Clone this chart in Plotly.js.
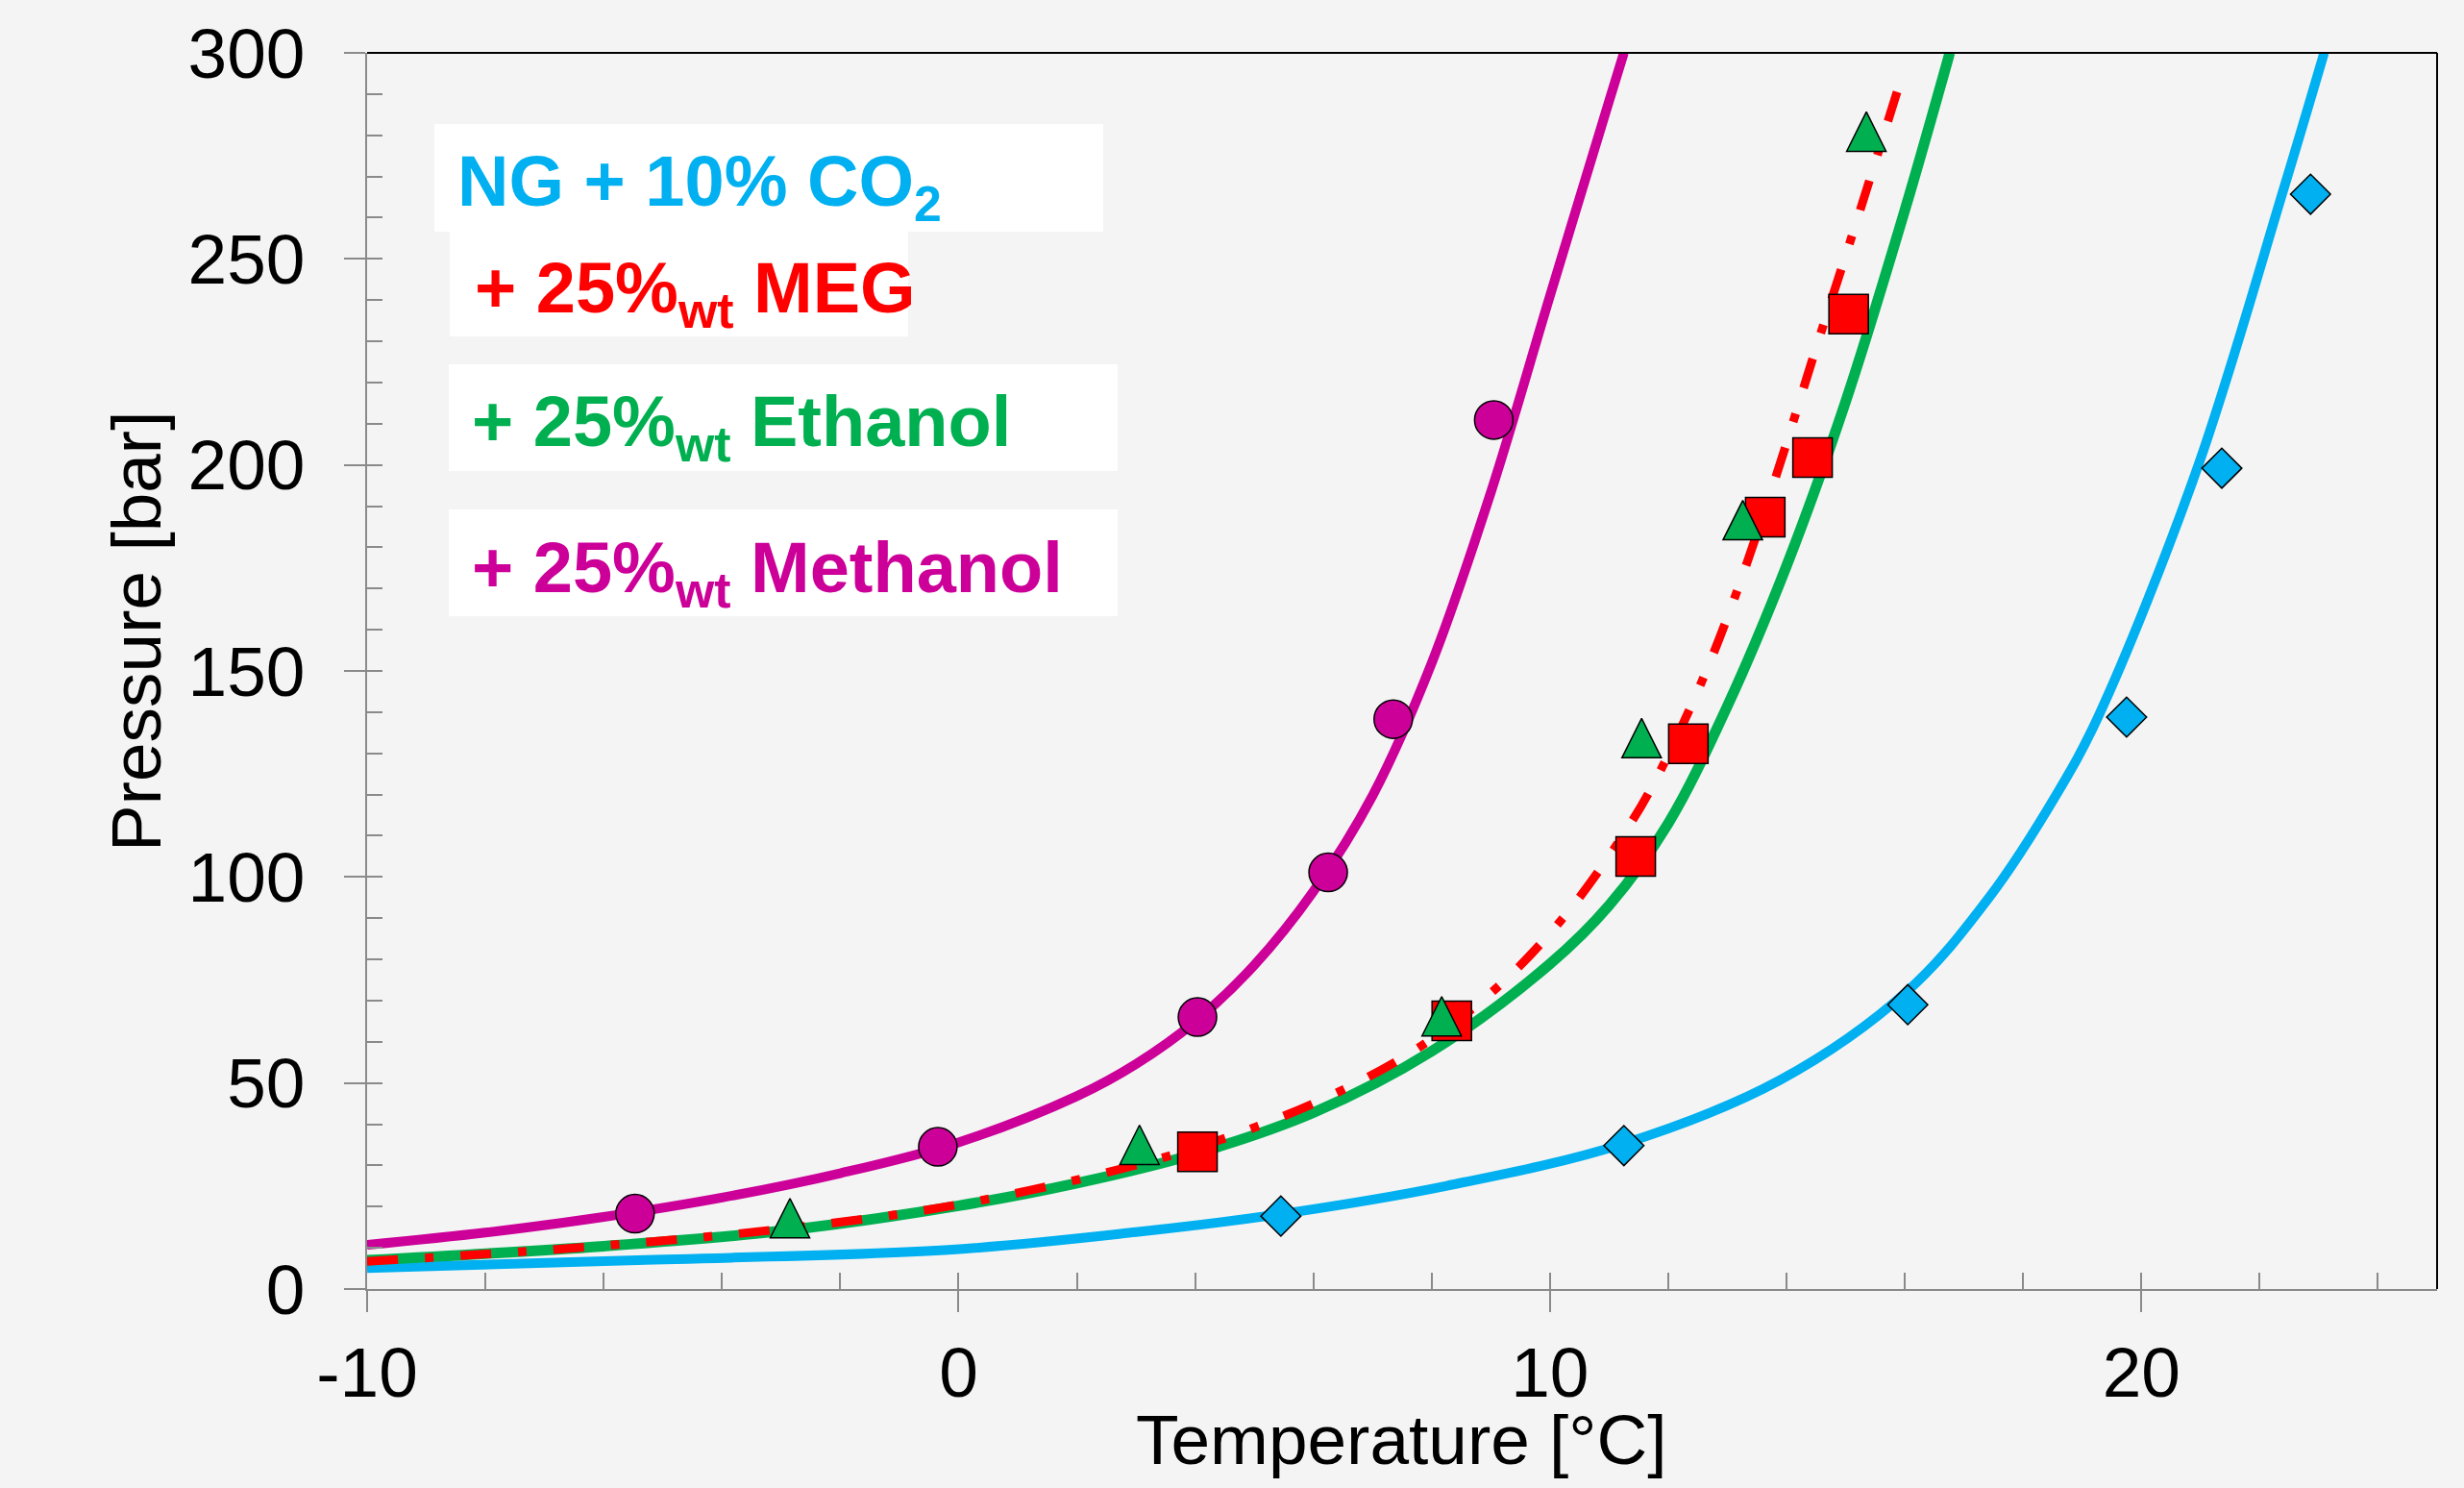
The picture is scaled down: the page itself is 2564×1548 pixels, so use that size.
<!DOCTYPE html>
<html><head><meta charset="utf-8">
<script src="https://cdn.plot.ly/plotly-3.0.1.min.js"></script>
<style>html,body{margin:0;padding:0;background:#f4f4f4;} #chart{width:2564px;height:1548px;}</style>
</head><body><div id="chart"></div>
<script>
// ---------- data ----------
// Experimental points
const methanolT = [-5.47, -0.35, 4.04, 6.25, 7.35, 9.05];
const methanolP = [18.3, 34.5, 66.0, 101.1, 138.3, 210.9];
const ethanolT  = [-2.85, 3.06, 8.17, 11.55, 13.26, 15.35];
const ethanolP  = [17.2, 35.0, 66.2, 133.7, 186.6, 280.9];
const megT      = [4.04, 8.34, 11.45, 12.34, 13.64, 14.44, 15.05];
const megP      = [33.3, 65.1, 105.0, 132.3, 187.3, 201.8, 236.6];
const ngT       = [5.45, 11.25, 16.05, 19.75, 21.36, 22.86];
const ngP       = [17.7, 34.8, 69.0, 138.8, 199.2, 265.7];

// Model curves
const methanolCurveT = [-10, -8, -6, -4, -2, 0, 2, 3, 4, 5, 6, 7, 8, 9, 10, 11, 11.25];
const methanolCurveP = [10.7, 13.7, 17.5, 22.2, 28.1, 35.6, 46.8, 54.6, 64.9, 78.6, 96.5, 119.7, 151.9, 193.3, 241.0, 288.3, 300];
const ethanolCurveT  = [-10, -6, -3, 0, 2, 4, 6, 8, 10, 11, 12, 13, 14, 15, 16, 16.76];
const ethanolCurveP  = [7.0, 10.4, 14.1, 20.2, 25.7, 32.8, 42.8, 57.7, 78.9, 93.1, 113.0, 141.5, 175.5, 215.4, 261.8, 300];
const megCurveT      = [-10, -6.1, -2.85, 0, 3.06, 4.78, 6.55, 7.96, 9.23, 10.36, 11.35, 11.77, 12.48, 13.05, 13.83, 14.46, 15.2, 15.66, 15.97];
const megCurveP      = [6.7, 10.4, 14.8, 20.5, 30.3, 38.0, 48.7, 60.3, 74.8, 92.5, 112.7, 123.1, 144.5, 164.9, 197.6, 226.6, 259.8, 280.9, 295.2];
const ngCurveT       = [-10, -5.43, -0.17, 3.0, 5.45, 8.24, 11.25, 13.89, 16.05, 17.43, 18.56, 19.27, 20.94, 22.4, 23.09];
const ngCurveP       = [5.1, 7.0, 9.5, 13.8, 18.2, 25.0, 35.3, 50.7, 72.4, 95.1, 119.9, 138.9, 199.0, 266.7, 300];

const xTickVals = [-10, 0, 10, 20];
const xTickText = ['-10', '0', '10', '20'];
const yTickVals = [0, 50, 100, 150, 200, 250, 300];
const yTickText = ['0', '50', '100', '150', '200', '250', '300'];

const labelNG  = 'NG + 10% CO<sub>2</sub>';
const labelMEG = '+ 25%<sub>wt</sub> MEG';
const labelEth = '+ 25%<sub>wt</sub> Ethanol';
const labelMet = '+ 25%<sub>wt</sub> Methanol';
const xTitle = 'Temperature [°C]';
const yTitle = 'Pressure [bar]';

// ---------- styling ----------
const cCyan = '#00B0F0', cRed = '#FF0000', cGreen = '#00B050', cMag = '#CC0099';
const axisGray = '#8a8a8a';
const FONT = 'Liberation Sans, Arial, sans-serif';
const W = 2564, H = 1548;
const M = {l: 382, r: 28, t: 55, b: 207};
const plotH = H - M.t - M.b;
const xRange = [-10, 25], yRange = [0, 300];
const TRI_SIZE = 41;
// arrow-up symbol has its apex at the data point; shift the helper axis so the triangle is centred
const triShift = (TRI_SIZE / 2) / (plotH / (yRange[1] - yRange[0]));

const mline = {color: '#000', width: 1.5};
const spl = 1.0;
const traces = [
  {x: [], y: [], xaxis: 'x2', yaxis: 'y2', mode: 'markers', hoverinfo: 'skip'},
  {x: ngCurveT, y: ngCurveP, mode: 'lines', line: {color: cCyan, width: 10, shape: 'spline', smoothing: spl}},
  {x: ngT, y: ngP, mode: 'markers', marker: {symbol: 'diamond', size: 32, color: cCyan, line: mline}},
  {x: ethanolCurveT, y: ethanolCurveP, mode: 'lines', line: {color: cGreen, width: 11, shape: 'spline', smoothing: spl}},
  {x: ethanolT, y: ethanolP, yaxis: 'y3', mode: 'markers', marker: {symbol: 'arrow-up', size: TRI_SIZE, color: cGreen, line: mline}},
  {x: megCurveT, y: megCurveP, mode: 'lines', line: {color: cRed, width: 9, dash: '32px,28px,9px,28px', shape: 'spline', smoothing: spl}},
  {x: megT, y: megP, mode: 'markers', marker: {symbol: 'square', size: 41, color: cRed, line: mline}},
  {x: methanolCurveT, y: methanolCurveP, mode: 'lines', line: {color: cMag, width: 10, shape: 'spline', smoothing: spl}},
  {x: methanolT, y: methanolP, mode: 'markers', marker: {symbol: 'circle', size: 40, color: cMag, line: mline}}
];

const px2x = px => (px - M.l) / (W - M.l - M.r);
const py2y = py => (H - M.b - py) / plotH;

function box(x0, x1, y0, y1) {
  return {type: 'rect', xref: 'paper', yref: 'paper', layer: 'below',
    x0: px2x(x0), x1: px2x(x1), y0: py2y(y1), y1: py2y(y0),
    fillcolor: '#ffffff', line: {width: 0}};
}
function label(text, xpx, ypx, color) {
  return {text: text, xref: 'paper', yref: 'paper', x: px2x(xpx), y: py2y(ypx),
    xanchor: 'left', yanchor: 'middle', showarrow: false, align: 'left',
    font: {family: FONT, size: 74, color: color, weight: 'bold'}};
}

const layout = {
  width: W, height: H, autosize: false,
  margin: M,
  paper_bgcolor: '#f4f4f4', plot_bgcolor: '#f4f4f4',
  showlegend: false,
  font: {family: FONT, color: '#000'},
  xaxis: {range: xRange, tickmode: 'array', tickvals: xTickVals, ticktext: xTickText,
    ticks: 'outside', ticklen: 22, tickwidth: 2, tickcolor: axisGray,
    showline: true, linecolor: axisGray, linewidth: 2, showgrid: false, zeroline: false,
    tickfont: {family: FONT, size: 73, color: '#000'}, ticklabelstandoff: 0},
  xaxis2: {range: xRange, overlaying: 'x', anchor: 'y', side: 'bottom', tickmode: 'linear', tick0: 0, dtick: 2,
    ticks: 'inside', ticklen: 17, tickwidth: 2, tickcolor: axisGray, showticklabels: false,
    showline: false, showgrid: false, zeroline: false},
  yaxis: {range: yRange, tickmode: 'array', tickvals: yTickVals, ticktext: yTickText,
    ticks: 'outside', ticklen: 22, tickwidth: 2, tickcolor: axisGray,
    showline: true, linecolor: axisGray, linewidth: 2, showgrid: false, zeroline: false,
    tickfont: {family: FONT, size: 73, color: '#000'}, ticklabelstandoff: 26},
  yaxis2: {range: yRange, overlaying: 'y', anchor: 'x', side: 'left', tickmode: 'linear', tick0: 0, dtick: 10,
    ticks: 'inside', ticklen: 16, tickwidth: 2, tickcolor: axisGray, showticklabels: false,
    showline: false, showgrid: false, zeroline: false},
  yaxis3: {range: [yRange[0] - triShift, yRange[1] - triShift], overlaying: 'y', anchor: 'x', visible: false},
  shapes: [
    box(452, 1148, 129, 241),
    box(468, 945, 241, 350),
    box(467, 1163, 379, 490),
    box(467, 1163, 530, 641),
    {type: 'line', xref: 'paper', yref: 'paper', x0: 0.0, x1: 1, y0: 1, y1: 1, line: {color: '#000', width: 2}, layer: 'above'},
    {type: 'line', xref: 'paper', yref: 'paper', x0: 1, x1: 1, y0: 0, y1: 1, line: {color: '#000', width: 2}, layer: 'above'}
  ],
  annotations: [
    label(labelNG, 474, 194, cCyan),
    label(labelMEG, 492, 305, cRed),
    label(labelEth, 489, 444, cGreen),
    label(labelMet, 489, 596, cMag),
    {text: xTitle, xref: 'paper', yref: 'paper', x: px2x(1458), y: py2y(1497), xanchor: 'center', yanchor: 'middle',
      showarrow: false, font: {family: FONT, size: 73, color: '#000'}},
    {text: yTitle, xref: 'paper', yref: 'paper', x: px2x(141), y: py2y(657), xanchor: 'center', yanchor: 'middle',
      textangle: -90, showarrow: false, font: {family: FONT, size: 73, color: '#000'}}
  ]
};

Plotly.newPlot('chart', traces, layout, {displayModeBar: false, staticPlot: true});
</script></body></html>
